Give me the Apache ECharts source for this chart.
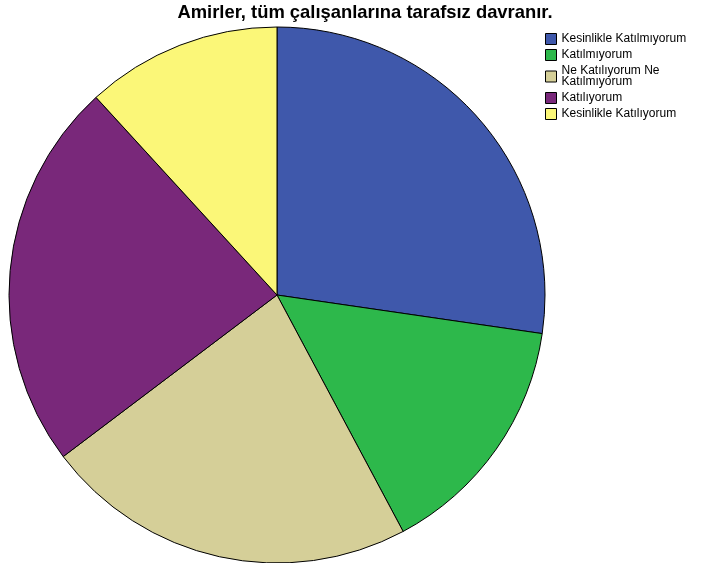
<!DOCTYPE html>
<html>
<head>
<meta charset="utf-8">
<script src="https://cdn.jsdelivr.net/npm/echarts@6/dist/echarts.min.js"></script>
<style>
  html, body { margin: 0; padding: 0; background: #fff; }
  #chart { width: 707px; height: 563px; }
</style>
</head>
<body>
<div id="chart"></div>
<script>
const categories = ['Kesinlikle Katılmıyorum', 'Katılmıyorum', 'Ne Katılıyorum Ne Katılmıyorum', 'Katılıyorum', 'Kesinlikle Katılıyorum'];
const percents = [27.3, 14.9, 22.5, 23.5, 11.8];
const colors = ['#3f58ab', '#2db84b', '#d5cf98', '#79287a', '#fbf778'];

const chart = echarts.init(document.getElementById('chart'));

const option = {
    animation: false,
    title: {
        text: 'Amirler, tüm çalışanlarına tarafsız davranır.',
        left: 365,
        textAlign: 'center',
        top: 4,
        padding: 0,
        textStyle: {
            fontFamily: 'Liberation Sans',
            fontSize: 18.4,
            fontWeight: 'bold',
            color: '#000'
        }
    },
    legend: {
        orient: 'vertical',
        left: 545,
        top: 33,
        padding: 0,
        itemWidth: 11,
        itemHeight: 11,
        itemGap: 4,
        icon: 'rect',
        itemStyle: { borderColor: '#000', borderWidth: 1 },
        formatter: function (name) {
            return name === 'Ne Katılıyorum Ne Katılmıyorum' ? 'Ne Katılıyorum Ne\nKatılmıyorum' : name;
        },
        textStyle: {
            fontFamily: 'Liberation Sans',
            fontSize: 12,
            lineHeight: 11,
            color: '#000',
            padding: [0, 0, 0, 0]
        },
        data: categories
    },
    series: [
        {
            type: 'pie',
            center: [277, 295],
            radius: 268,
            startAngle: 90,
            clockwise: true,
            label: { show: false },
            labelLine: { show: false },
            emphasis: { disabled: true },
            itemStyle: {
                borderColor: '#000',
                borderWidth: 1
            },
            data: categories.map((c, i) => ({
                name: c,
                value: percents[i],
                itemStyle: { color: colors[i] }
            }))
        }
    ]
};

chart.setOption(option);
</script>
</body>
</html>
